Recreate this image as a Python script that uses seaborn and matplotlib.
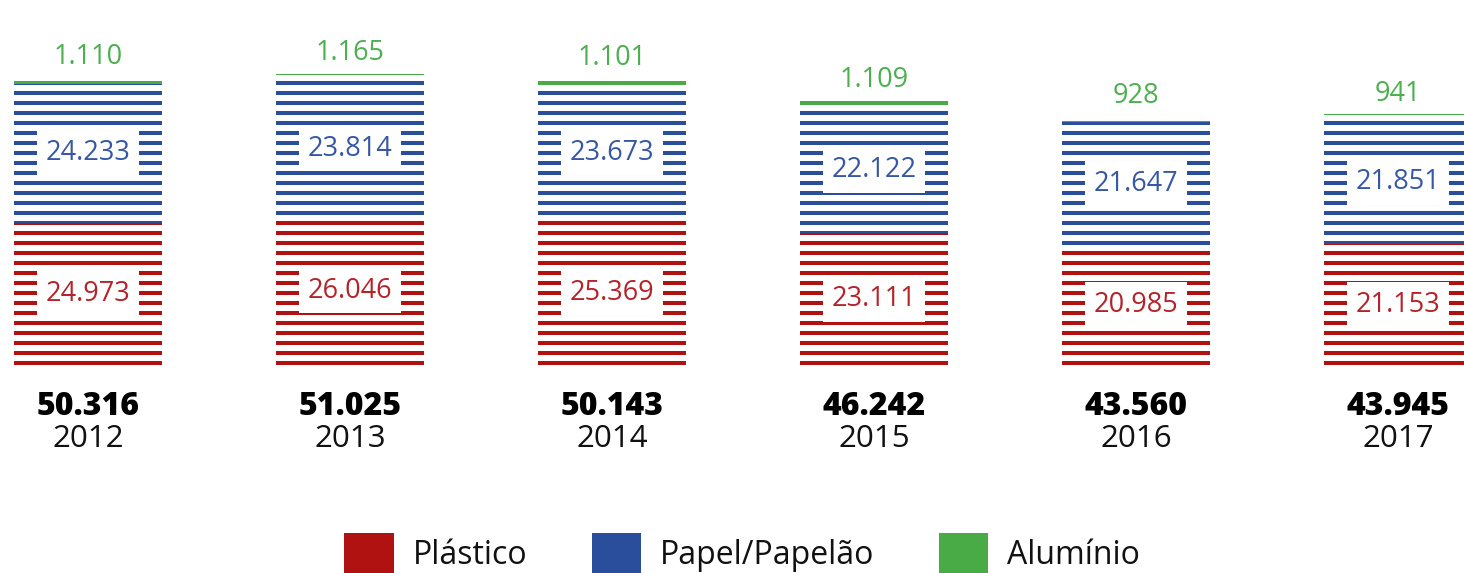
import matplotlib
matplotlib.use("Agg")
import matplotlib.pyplot as plt
from matplotlib.patches import Patch
import seaborn as sns

# ===== data =====
years = ["2012", "2013", "2014", "2015", "2016", "2017"]
plastico = [24973, 26046, 25369, 23111, 20985, 21153]
papel = [24233, 23814, 23673, 22122, 21647, 21851]
aluminio = [1110, 1165, 1101, 1109, 928, 941]
totais = [50316, 51025, 50143, 46242, 43560, 43945]

series_names = ["Plástico", "Papel/Papelão", "Alumínio"]
colors = ["#B01212", "#2A4E9B", "#48AB45"]
text_colors = ["#B5232A", "#3557A5", "#4CAF50"]


def fmt(v):
    return f"{v:,}".replace(",", ".")


sns.set_style("white")
plt.rcParams["font.family"] = ["Open Sans", "DejaVu Sans"]

W, H = 1464, 573
fig = plt.figure(figsize=(W / 100, H / 100), dpi=100)
base_px = 365  # bar baseline, px from top
ax = fig.add_axes([0, (H - base_px) / H, 1, base_px / H])

# ===== stacked bars (cumulative overlap) =====
cum_rb = [r + b for r, b in zip(plastico, papel)]
cum_all = [c + a for c, a in zip(cum_rb, aluminio)]
bar_w = 148 / 262
for vals, col in zip([cum_all, cum_rb, plastico], colors[::-1]):
    sns.barplot(x=years, y=vals, color=col, saturation=1, width=bar_w,
                linewidth=0, errorbar=None, ax=ax)

YMAX = 64000
ax.set_ylim(0, YMAX)
x0 = -88 / 262
ax.set_xlim(x0, x0 + W / 262)
ax.set_axis_off()

# ===== white stripes =====
per_px = YMAX / base_px
for j in range(40):
    ax.axhline((7 + 10 * j) * per_px, color="white", lw=4.3, zorder=2)

# ===== labels =====
box = dict(boxstyle="square,pad=0.32", fc="white", ec="none")
for i in range(len(years)):
    ax.text(i, plastico[i] / 2, fmt(plastico[i]), ha="center", va="center",
            fontsize=19.5, color=text_colors[0], bbox=box, zorder=3)
    ax.text(i, plastico[i] + papel[i] / 2, fmt(papel[i]), ha="center",
            va="center", fontsize=19.5, color=text_colors[1], bbox=box, zorder=3)
    ax.annotate(fmt(aluminio[i]), (i, cum_all[i]), xytext=(0, 15),
                textcoords="offset points", ha="center", va="center",
                fontsize=19.5, color=text_colors[2], zorder=3)
    ax.text(i, -(407 - base_px) / base_px, fmt(totais[i]),
            transform=ax.get_xaxis_transform(), ha="center", va="center",
            fontsize=23, fontweight="heavy", color="black")
    ax.text(i, -(439 - base_px) / base_px, years[i],
            transform=ax.get_xaxis_transform(), ha="center", va="center",
            fontsize=22.5, color="#111111")

# ===== legend =====
handles = [Patch(facecolor=c, edgecolor="none") for c in colors]
leg = fig.legend(handles, series_names, loc="center", ncol=3, frameon=False,
                 bbox_to_anchor=(0.507, (H - 553) / H), fontsize=23,
                 handlelength=1.55, handleheight=1.55, handletextpad=0.6,
                 columnspacing=2.0)
for t in leg.get_texts():
    t.set_color("#111111")

fig.savefig("out.png", dpi=100)
